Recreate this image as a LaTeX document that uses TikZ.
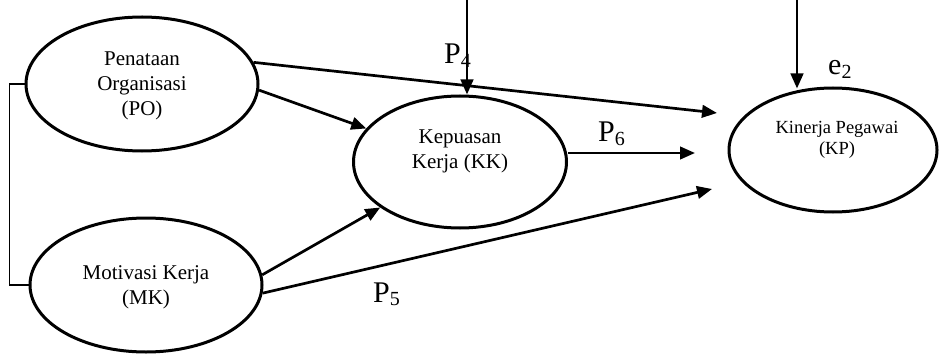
\documentclass[tikz,border=0pt]{standalone}
\usepackage{fontspec}
\setmainfont{Liberation Serif}
\usetikzlibrary{arrows.meta,positioning,shapes.geometric}
\newcommand{\subnum}[1]{\raisebox{-3.5pt}{\fontsize{20}{20}\selectfont #1}}
\tikzset{
  var/.style={draw,ellipse,line width=3pt,inner sep=0pt},
  arr/.style={line width=2.7pt,-{Triangle[length=15pt,width=12.5pt]}},
  lbl/.style={inner sep=0pt,anchor=base west,font=\fontsize{30}{30}\selectfont},
  txt/.style={inner sep=0pt,align=center,font=\fontsize{21}{25}\selectfont},
}

\begin{document}
\begin{tikzpicture}[x=1pt,y=1pt]
 \useasboundingbox (0,0) rectangle (939,354);
 % ---- variables
 \node[var,minimum width=232,minimum height=134] (PO) at (142,270){};
 \node[txt] (POt) at (142,268){Penataan\\Organisasi\\(PO)};
 \node[var,minimum width=232,minimum height=134] (MK) at (146,69){};
 \node[txt] (MKt) at (146,67){Motivasi Kerja\\(MK)};
 \node[var,minimum width=213,minimum height=132] (KK) at (460,192){};
 \node[txt] (KKt) at (460,203){Kepuasan\\Kerja (KK)};
 \node[var,minimum width=208,minimum height=124] (KP) at (833,204){};
 \node[txt,font=\fontsize{18.5}{21}\selectfont] (KPt) at (837,214){Kinerja Pegawai\\(KP)};
 % ---- correlation bracket
 \draw[line width=1.3pt] (PO.west)--++(-15,0) |- (MK.west);
 % ---- paths
 \coordinate (kp1) at (717,241);
 \coordinate (kp2) at (695,201);
 \coordinate (kp3) at (712,165);
 \draw[arr] (PO.11)--(kp1);
 \draw[arr] (PO.-3)--(KK);
 \draw[arr] (kp2 -| KK.east)--(kp2);
 \draw[arr] (MK.5)--(KK);
 \draw[arr] (MK.-4)--(kp3);
 % ---- residuals
 \coordinate (e1) at (467,354);
 \coordinate (e2) at (797,354);
 \draw[arr] (e1)--(e1 |- KK.north);
 \draw[arr] (e2)--([yshift=-2]e2 |- KP.north);
 % ---- labels
 \node[lbl] (p4) at (444,290){P\subnum{4}};
 \node[lbl] (p6) at (598,212){P\subnum{6}};
 \node[lbl] (p5) at (373,52){P\subnum{5}};
 \node[lbl] (le2) at (828,279){e\subnum{2}};
\end{tikzpicture}
\end{document}
